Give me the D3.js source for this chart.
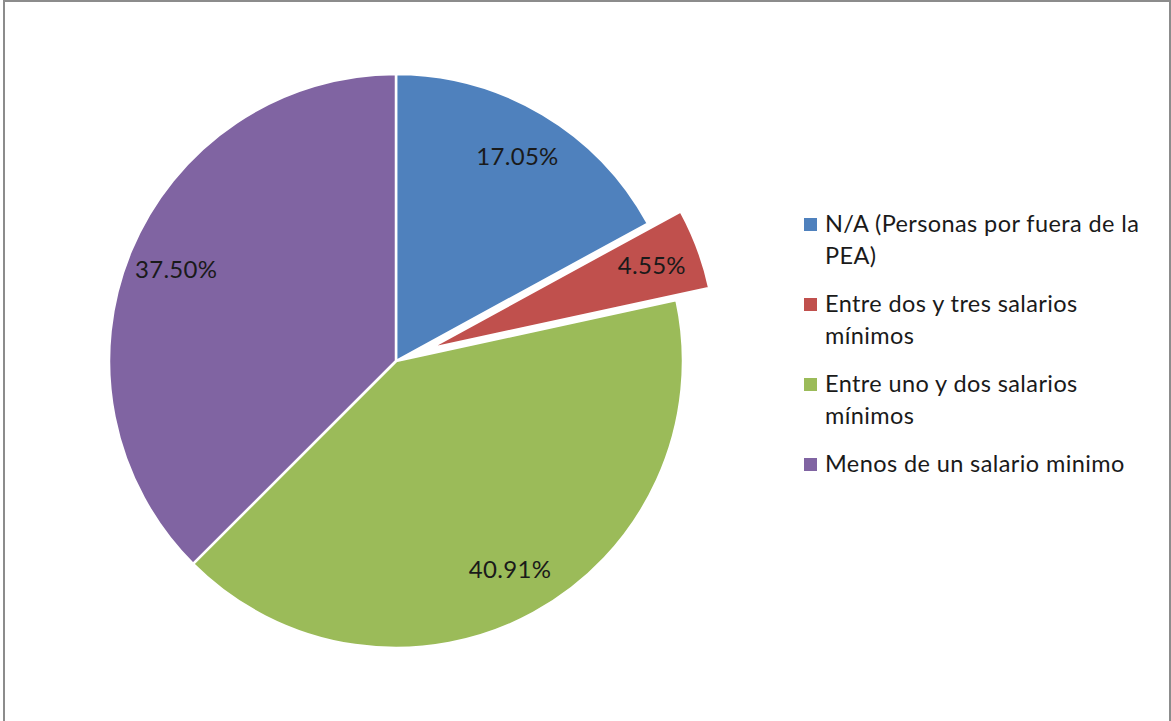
<!DOCTYPE html>
<html>
<head>
<meta charset="utf-8">
<script src="https://cdn.jsdelivr.net/npm/d3@7"></script>
<style>
  html, body { margin: 0; padding: 0; background: #fff; }
  svg { display: block; }
</style>
</head>
<body>
<svg id="chart" width="1171" height="721"></svg>
<script>
// ---- data ----
const categories = [
  "N/A (Personas por fuera de la PEA)",
  "Entre dos y tres salarios mínimos",
  "Entre uno y dos salarios mínimos",
  "Menos de un salario minimo"
];
const values = [17.05, 4.55, 40.91, 37.50];
const labels = ["17.05%", "4.55%", "40.91%", "37.50%"];
const legendLines = [
  ["N/A (Personas por fuera de la", "PEA)"],
  ["Entre dos y tres salarios", "mínimos"],
  ["Entre uno y dos salarios", "mínimos"],
  ["Menos de un salario minimo"]
];
const colors = ["#4F81BD", "#C0504D", "#9BBB59", "#8064A2"];
const exploded = [false, true, false, false];

// ---- layout ----
const W = 1171, H = 721;
const cx = 396, cy = 361, R = 287, explode = 35, labelR = 238;
const svg = d3.select("#chart");

svg.append("rect")
  .attr("x", 4).attr("y", 1)
  .attr("width", 1166).attr("height", 740)
  .attr("fill", "#fff")
  .attr("stroke", "#8c8c8c").attr("stroke-width", 2);

const data = categories.map((c, i) => ({ cat: c, value: values[i], label: labels[i], color: colors[i], exploded: exploded[i] }));

const pie = d3.pie().value(d => d.value).sort(null);
const arcs = pie(data);
const arc = d3.arc().innerRadius(0).outerRadius(R);
const labelArc = d3.arc().innerRadius(labelR).outerRadius(labelR);

const g = svg.append("g").attr("transform", `translate(${cx},${cy})`);

function offset(d) {
  if (!d.data.exploded) return [0, 0];
  const a = (d.startAngle + d.endAngle) / 2;
  return [explode * Math.sin(a), -explode * Math.cos(a)];
}

const slices = g.selectAll("g.slice").data(arcs).enter().append("g")
  .attr("class", "slice")
  .attr("transform", d => { const o = offset(d); return `translate(${o[0]},${o[1]})`; });

slices.append("path")
  .attr("d", arc)
  .attr("fill", d => d.data.color)
  .attr("stroke", "#fff")
  .attr("stroke-width", 2.5)
  .attr("stroke-linejoin", "round");

slices.append("text")
  .attr("transform", d => `translate(${labelArc.centroid(d)})`)
  .attr("text-anchor", "middle")
  .attr("dy", "0.35em")
  .attr("font-family", "Lato, 'Open Sans', sans-serif")
  .attr("font-size", 24)
  .attr("letter-spacing", 0.3)
  .attr("fill", "#1a1a1a")
  .text(d => d.data.label);

// ---- legend ----
const legend = svg.append("g").attr("transform", "translate(804,232)");
const lineH = 32, gapH = 48;
let y = 0;
data.forEach((d, i) => {
  const item = legend.append("g").attr("transform", `translate(0,${y})`);
  item.append("rect")
    .attr("x", 0).attr("y", -14)
    .attr("width", 13).attr("height", 13)
    .attr("fill", d.color);
  const t = item.append("text")
    .attr("x", 21).attr("y", 0)
    .attr("font-family", "Lato, 'Open Sans', sans-serif")
    .attr("font-size", 23.5)
    .attr("letter-spacing", 0.4)
    .attr("fill", "#1a1a1a");
  legendLines[i].forEach((ln, j) => {
    t.append("tspan").attr("x", 21).attr("y", j * lineH).text(ln);
  });
  y += (legendLines[i].length - 1) * lineH + gapH;
});
</script>
</body>
</html>
